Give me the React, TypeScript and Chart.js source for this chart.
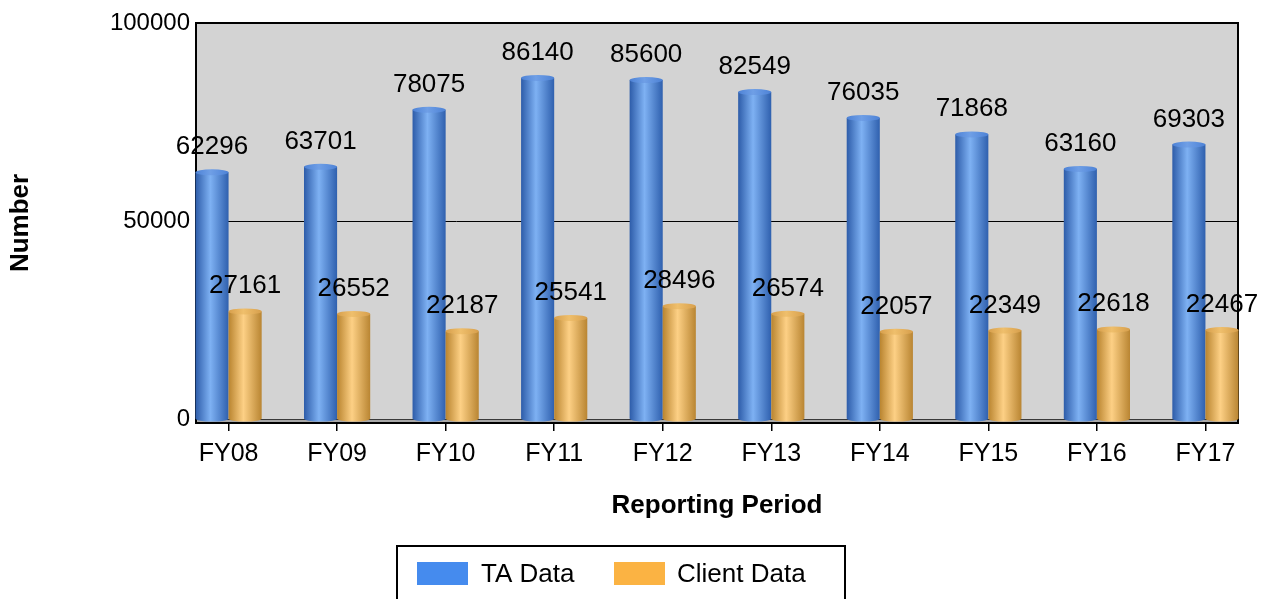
import React, { useEffect, useRef } from 'react';
import { Chart, registerables } from 'chart.js';

Chart.register(...registerables);

const categories = ['FY08', 'FY09', 'FY10', 'FY11', 'FY12', 'FY13', 'FY14', 'FY15', 'FY16', 'FY17'];
const taData = [62296, 63701, 78075, 86140, 85600, 82549, 76035, 71868, 63160, 69303];
const clientData = [27161, 26552, 22187, 25541, 28496, 26574, 22057, 22349, 22618, 22467];
const seriesLabels = ['TA Data', 'Client Data'];
const yTickValues = [0, 50000, 100000];
const xTitle = 'Reporting Period';
const yTitle = 'Number';

const FONT = "'Liberation Sans', Arial, Helvetica, sans-serif";

const palettes = [
  { left: '#2d5ca9', mid: '#7eb1f3', right: '#2f60ae', capA: '#4d82d6', capB: '#6f9fe6', legend: '#458bee' },
  { left: '#b9842f', mid: '#fdd085', right: '#b98532', capA: '#d79f4c', capB: '#efbf6c', legend: '#fbb343' },
];

const customPlugin = {
  id: 'customDraw',
  beforeDraw(chart: any) {
    const { ctx, chartArea: a } = chart;
    ctx.save();
    ctx.fillStyle = '#d3d3d3';
    ctx.fillRect(a.left, a.top, a.right - a.left, a.bottom - a.top);
    ctx.restore();
  },
  beforeDatasetsDraw(chart: any) {
    const { ctx, chartArea: a, scales } = chart;
    const y0 = scales.y.getPixelForValue(0);
    ctx.save();
    ctx.fillStyle = '#a8a8a8';
    ctx.fillRect(a.left, y0, a.right - a.left, a.bottom - y0);
    ctx.strokeStyle = '#3a3a3a';
    ctx.lineWidth = 1;
    ctx.beginPath();
    ctx.moveTo(a.left, Math.round(y0) + 0.5);
    ctx.lineTo(a.right, Math.round(y0) + 0.5);
    ctx.stroke();
    ctx.strokeStyle = '#000';
    ctx.lineWidth = 2;
    ctx.strokeRect(a.left, a.top, a.right - a.left, a.bottom - a.top);
    ctx.restore();
  },
  afterDatasetsDraw(chart: any) {
    const { ctx } = chart;
    ctx.save();
    const capR = 3;
    chart.data.datasets.forEach((ds: any, di: number) => {
      const meta = chart.getDatasetMeta(di);
      const pal = palettes[di];
      meta.data.forEach((el: any) => {
        const { x, y, base, width } = el.getProps(['x', 'y', 'base', 'width'], true);
        const left = x - width / 2;
        const g = ctx.createLinearGradient(left, 0, left + width, 0);
        g.addColorStop(0, pal.left);
        g.addColorStop(0.45, pal.mid);
        g.addColorStop(1, pal.right);
        ctx.fillStyle = g;
        ctx.beginPath();
        ctx.moveTo(left, y);
        ctx.lineTo(left, base);
        ctx.ellipse(x, base, width / 2, capR, 0, Math.PI, 0, true);
        ctx.lineTo(left + width, y);
        ctx.closePath();
        ctx.fill();
        const gc = ctx.createLinearGradient(left, 0, left + width, 0);
        gc.addColorStop(0, pal.capA);
        gc.addColorStop(0.45, pal.capB);
        gc.addColorStop(1, pal.capA);
        ctx.fillStyle = gc;
        ctx.beginPath();
        ctx.ellipse(x, y, width / 2, capR, 0, 0, Math.PI * 2);
        ctx.fill();
      });
    });
    ctx.fillStyle = '#000';
    ctx.font = `26px ${FONT}`;
    ctx.textAlign = 'center';
    ctx.textBaseline = 'alphabetic';
    chart.data.datasets.forEach((ds: any, di: number) => {
      const meta = chart.getDatasetMeta(di);
      meta.data.forEach((el: any, i: number) => {
        const { x, y } = el.getProps(['x', 'y'], true);
        ctx.fillText(String(ds.data[i].y), x, y - 18);
      });
    });
    ctx.restore();
  },
  afterDraw(chart: any) {
    const { ctx } = chart;
    ctx.save();
    ctx.strokeStyle = '#000';
    ctx.lineWidth = 2;
    ctx.strokeRect(397, 546, 448, 80);
    ctx.font = `26px ${FONT}`;
    ctx.textAlign = 'left';
    ctx.textBaseline = 'alphabetic';
    const items = [
      { sx: 417, tx: 481 },
      { sx: 614, tx: 677 },
    ];
    chart.data.datasets.forEach((ds: any, di: number) => {
      const it = items[di];
      ctx.fillStyle = palettes[di].legend;
      ctx.fillRect(it.sx, 562, 51, 23);
      ctx.fillStyle = '#000';
      ctx.fillText(ds.label, it.tx, 582);
    });
    ctx.restore();
  },
};

export default function App() {
  const canvasRef = useRef<HTMLCanvasElement | null>(null);

  useEffect(() => {
    if (!canvasRef.current) return;
    Chart.defaults.font.family = FONT;
    Chart.defaults.color = '#000';
    const toPoints = (arr: number[]) => arr.map((v, i) => ({ x: i, y: v }));
    const chart = new Chart(canvasRef.current, {
      type: 'bar',
      data: {
        datasets: [
          {
            label: seriesLabels[0],
            data: toPoints(taData) as any,
            backgroundColor: 'rgba(0,0,0,0)',
            borderWidth: 0,
            categoryPercentage: 0.61,
            barPercentage: 1,
          },
          {
            label: seriesLabels[1],
            data: toPoints(clientData) as any,
            backgroundColor: 'rgba(0,0,0,0)',
            borderWidth: 0,
            categoryPercentage: 0.61,
            barPercentage: 1,
          },
        ],
      },
      options: {
        animation: false,
        responsive: true,
        maintainAspectRatio: false,
        devicePixelRatio: 1,
        layout: { padding: { left: 5, right: 26, top: 23, bottom: 78 } },
        plugins: {
          legend: { display: false },
          tooltip: { enabled: false },
        },
        scales: {
          x: {
            type: 'linear',
            min: -0.3,
            max: 9.3,
            offset: false,
            afterBuildTicks: (scale: any) => {
              scale.ticks = categories.map((_, i) => ({ value: i }));
            },
            afterFit: (scale: any) => {
              scale.height = 98;
            },
            ticks: {
              autoSkip: false,
              maxRotation: 0,
              minRotation: 0,
              padding: 8,
              color: '#000',
              font: { size: 25, family: FONT },
              callback: (v: any) => categories[v] ?? '',
            },
            grid: {
              display: true,
              offset: false,
              drawOnChartArea: false,
              drawTicks: true,
              tickLength: 8,
              color: '#000',
              lineWidth: 1.5,
            },
            border: { display: false },
            title: {
              display: true,
              text: xTitle,
              color: '#000',
              font: { size: 26, weight: 'bold', family: FONT },
              padding: 0,
            },
          },
          y: {
            min: -1000,
            max: 100000,
            afterBuildTicks: (scale: any) => {
              scale.ticks = yTickValues.map((v) => ({ value: v }));
            },
            afterFit: (scale: any) => {
              scale.width = 191;
            },
            ticks: {
              padding: 6,
              color: '#000',
              font: { size: 24, family: FONT },
              callback: (v: any) => String(v),
            },
            grid: {
              drawTicks: false,
              color: (ctx: any) => (ctx.tick && ctx.tick.value === 50000 ? '#000' : 'rgba(0,0,0,0)'),
              lineWidth: 1,
            },
            border: { display: false },
            title: {
              display: true,
              text: yTitle,
              color: '#000',
              font: { size: 26, weight: 'bold', family: FONT },
              padding: 0,
            },
          },
        },
      },
      plugins: [customPlugin],
    });
    return () => chart.destroy();
  }, []);

  return (
    <div style={{ position: 'absolute', left: 0, top: 0, width: 1264, height: 599 }}>
      <canvas ref={canvasRef} />
    </div>
  );
}
